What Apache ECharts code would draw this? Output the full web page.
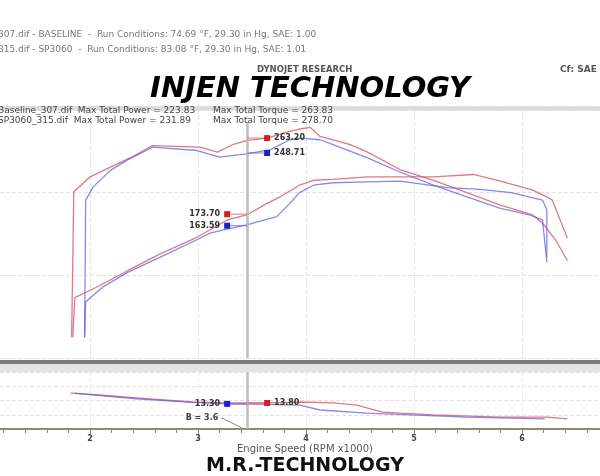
<!DOCTYPE html>
<html><head><meta charset="utf-8">
<script src="https://cdn.jsdelivr.net/npm/echarts@6/dist/echarts.min.js"></script>
<style>html,body{margin:0;padding:0;background:#fff}#c{width:600px;height:476px}</style>
</head><body><div id="c"></div>
<script>
// ---- data (engine speed in RPM x1000) ----
const xTickLabels = ['2','3','4','5','6'];
const redTorqueRpm = [1.83,1.85,2.00,2.19,2.37,2.58,2.79,3.02,3.18,3.32,3.45,3.64,3.81,3.94,4.04,4.13,4.25,4.41,4.57,4.87,5.18,5.49,5.80,6.10,6.19,6.31,6.42];
const redTorque    = [25,201,219,231,242,257,256,255,249,258,263,266,273,277,279,268,264,258,249,228,215,200,185,173,163,143,118];
const blueTorqueRpm = [1.95,1.96,2.03,2.19,2.34,2.58,2.99,3.20,3.39,3.45,3.67,3.85,3.94,4.13,4.25,4.57,4.87,5.18,5.49,5.80,6.07,6.19,6.23];
const blueTorque    = [25,191,207,227,239,255,251,243,246,247,252,264,266,264,258,242,225,209,195,181,173,167,116];
const redPowerRpm = [1.84,1.86,2.05,2.34,2.65,2.99,3.27,3.45,3.64,3.76,3.94,4.07,4.25,4.57,4.87,5.18,5.55,5.80,6.10,6.23,6.28,6.42];
const redPower    = [25,73,85,105,126,146,167,173,187,195,209,215,216,219,219,219,222,214,203,195,191,145];
const bluePowerRpm = [1.95,1.96,2.12,2.34,2.65,2.99,3.11,3.27,3.45,3.73,3.85,3.94,4.07,4.25,4.57,4.87,5.31,5.61,5.90,6.19,6.23,6.23];
const bluePower    = [25,68,86,103,122,143,151,156,161,171,187,200,209,212,213,214,206,204,200,191,179,122];
const redAfrRpm = [1.82,2.09,2.46,2.95,3.27,3.64,3.94,4.25,4.47,4.71,5.18,5.80,6.23,6.42];
const redAfr    = [13.89,13.79,13.63,13.42,13.37,13.37,13.42,13.37,13.26,12.89,12.74,12.63,12.63,12.53];
const blueAfrRpm = [1.86,2.09,2.46,2.95,3.27,3.64,3.94,4.13,4.56,5.49,6.21];
const blueAfr    = [13.89,13.76,13.58,13.40,13.32,13.30,13.26,13.00,12.84,12.63,12.53];
const cursorRpm = 3.454;
const leftMarkRpm = 3.27, rightMarkRpm = 3.64;
const readRedPower = 174, readBluePower = 160, readRedTorque = 266, readBlueTorque = 248;
const readRedPowerTxt = '173.70', readBluePowerTxt = '163.59', readRedTorqueTxt = '263.20', readBlueTorqueTxt = '248.71';
const readBlueAfr = 13.32, readRedAfr = 13.37, readBlueAfrTxt = '13.30', readRedAfrTxt = '13.80';

const zip = (a,b) => a.map((v,i)=>[v,b[i]]);
const RED = 'rgba(222,84,96,0.8)', BLUE = 'rgba(96,96,226,0.75)';
const FF = 'DejaVu Sans, sans-serif';

function curve(name, rpm, vals, color, gi){
  return {type:'line', name, xAxisIndex:gi, yAxisIndex:gi, data:zip(rpm,vals), symbol:'none',
    lineStyle:{color, width:1.3}, silent:true, animation:false, z:3};
}
function readout(gi, markRpm, val, txt, color, markColor, side){
  return {type:'line', xAxisIndex:gi, yAxisIndex:gi, animation:false, silent:true, z:5,
    lineStyle:{color, width:1}, itemStyle:{color:markColor}, symbol:'rect', showSymbol:true,
    data:[
      {value:[markRpm,val], symbolSize:6, label:{show:true, position:side, distance:4, formatter:txt,
        fontSize:8, fontFamily:FF, color:'#333', fontWeight:'bold'}},
      {value:[cursorRpm,val], symbolSize:0}
    ]};
}
const xCommon = {type:'value', min:1, max:6.8, interval:1};
const option = {
  animation:false,
  grid:[
    {left:-18, width:626.4, top:110, height:248, outerBoundsMode:'none', containLabel:false},
    {left:-18, width:626.4, top:372, height:57, outerBoundsMode:'none', containLabel:false}
  ],
  xAxis:[
    Object.assign({gridIndex:0}, xCommon, {axisLine:{show:false}, axisTick:{show:false}, axisLabel:{show:false},
      splitLine:{show:true, lineStyle:{color:'#e4e4e4', type:'dashed', width:1}}}),
    Object.assign({gridIndex:1}, xCommon, {
      axisLine:{show:true, onZero:false, lineStyle:{color:'#8c8c72', width:2}},
      axisTick:{show:true, length:5, lineStyle:{color:'#8c8c72'}},
      minorTick:{show:true, splitNumber:5, length:4, lineStyle:{color:'#8c8c72'}},
      axisLabel:{show:true, margin:6, fontSize:8, fontFamily:FF, fontWeight:'bold', color:'#444',
        formatter:v=>{const s=String(Math.round(v)); return xTickLabels.includes(s)?s:'';}},
      splitLine:{show:true, lineStyle:{color:'#ececec', type:'dashed', width:1}}})
  ],
  yAxis:[
    {gridIndex:0, type:'value', min:0, max:300, interval:100, axisLine:{show:false}, axisTick:{show:false}, axisLabel:{show:false},
      splitLine:{show:true, lineStyle:{color:'#e2e2e2', type:'dashed'}}},
    {gridIndex:1, type:'value', min:12, max:15, interval:0.75, axisLine:{show:false}, axisTick:{show:false}, axisLabel:{show:false},
      splitLine:{show:true, lineStyle:{color:'#ecdede', type:'dashed'}}}
  ],
  series:[
    Object.assign(curve('redTorque', redTorqueRpm, redTorque, RED, 0), {
      markLine:{silent:true, symbol:'none', label:{show:false}, lineStyle:{color:'#bdbdbd', width:2.5, type:'solid'},
        data:[[{coord:[cursorRpm,0]},{coord:[cursorRpm,285]}]]}}),
    curve('blueTorque', blueTorqueRpm, blueTorque, BLUE, 0),
    curve('redPower', redPowerRpm, redPower, RED, 0),
    curve('bluePower', bluePowerRpm, bluePower, BLUE, 0),
    Object.assign(curve('redAfr', redAfrRpm, redAfr, RED, 1), {
      markLine:{silent:true, symbol:'none', label:{show:false}, lineStyle:{color:'#bdbdbd', width:2.5, type:'solid'},
        data:[[{coord:[cursorRpm,12]},{coord:[cursorRpm,15]}]]}}),
    curve('blueAfr', blueAfrRpm, blueAfr, BLUE, 1),
    readout(0, leftMarkRpm, readRedPower, readRedPowerTxt, 'rgba(222,84,96,0.8)', '#d41e1e', 'left'),
    readout(0, leftMarkRpm, readBluePower, readBluePowerTxt, 'rgba(96,96,226,0.8)', '#1e1ec8', 'left'),
    readout(0, rightMarkRpm, readRedTorque, readRedTorqueTxt, 'rgba(222,84,96,0.8)', '#d41e1e', 'right'),
    readout(0, rightMarkRpm, readBlueTorque, readBlueTorqueTxt, 'rgba(96,96,226,0.8)', '#1e1ec8', 'right'),
    readout(1, leftMarkRpm, readBlueAfr, readBlueAfrTxt, 'rgba(96,96,226,0.8)', '#1e1ec8', 'left'),
    readout(1, rightMarkRpm, readRedAfr, readRedAfrTxt, 'rgba(222,84,96,0.8)', '#d41e1e', 'right'),
    {type:'line', xAxisIndex:1, yAxisIndex:1, animation:false, silent:true, symbol:'circle', showSymbol:true,
      itemStyle:{color:'#888'}, lineStyle:{color:'#888', width:1},
      data:[{value:[3.22,12.58], symbolSize:1, label:{show:true, position:'left', distance:3, formatter:'B = 3.6', fontSize:8, fontFamily:FF, fontWeight:'bold', color:'#444'}},
            {value:[3.41,12.05], symbolSize:0}]}
  ],
  graphic:[
    {type:'text', left:-2, top:30, style:{text:'307.dif - BASELINE  -  Run Conditions: 74.69 °F, 29.30 in Hg, SAE: 1.00', font:'9px '+FF, fill:'#777'}},
    {type:'text', left:-2, top:45, style:{text:'315.dif - SP3060  -  Run Conditions: 83.08 °F, 29.30 in Hg, SAE: 1.01', font:'9px '+FF, fill:'#777'}},
    {type:'text', left:257, top:65, style:{text:'DYNOJET RESEARCH', font:'bold 8.5px '+FF, fill:'#555'}},
    {type:'text', left:560, top:65, style:{text:'Cf: SAE', font:'bold 9px '+FF, fill:'#555'}},
    {type:'text', x:310, y:89, style:{text:'INJEN TECHNOLOGY', font:'italic 900 29px '+FF, fill:'#000', textAlign:'center', textVerticalAlign:'middle'}},
    {type:'rect', shape:{x:0, y:106, width:600, height:5}, style:{fill:'#dcdcdc'}, z:-1},
    {type:'text', left:-2, top:106, style:{text:'Baseline_307.dif  Max Total Power = 223.83', font:'9px '+FF, fill:'#444'}, z:10},
    {type:'text', left:-2, top:116, style:{text:'SP3060_315.dif  Max Total Power = 231.89', font:'9px '+FF, fill:'#444'}, z:10},
    {type:'text', left:213, top:106, style:{text:'Max Total Torque = 263.83', font:'9px '+FF, fill:'#444'}, z:10},
    {type:'text', left:213, top:116, style:{text:'Max Total Torque = 278.70', font:'9px '+FF, fill:'#444'}, z:10},
    {type:'rect', shape:{x:0, y:360, width:600, height:4}, style:{fill:'#7c7c7c'}},
    {type:'rect', shape:{x:0, y:364, width:600, height:8}, style:{fill:'#e4e4e4'}},
    {type:'text', x:305, y:449, style:{text:'Engine Speed (RPM x1000)', font:'10px '+FF, fill:'#555', textAlign:'center', textVerticalAlign:'middle'}},
    {type:'text', x:305, y:466, style:{text:'M.R.-TECHNOLOGY', font:'bold 19px '+FF, fill:'#111', textAlign:'center', textVerticalAlign:'middle'}}
  ]
};
const chart = echarts.init(document.getElementById('c'), null, {renderer:'canvas'});
chart.setOption(option);
</script></body></html>
